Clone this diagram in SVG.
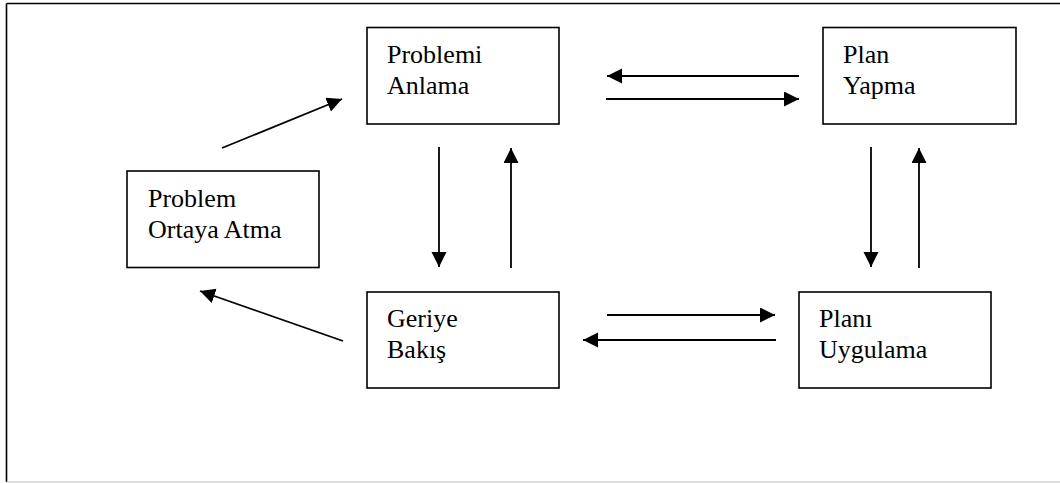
<svg xmlns="http://www.w3.org/2000/svg" width="1060" height="483" viewBox="0 0 1060 483">
<style>
.box{fill:#fff;stroke:#000;stroke-width:1.6}
.lbl{font-family:"Liberation Serif","Times New Roman",serif;font-size:26px;fill:#000}
.con{stroke:#000;stroke-width:1.8;fill:none;marker-end:url(#ah)}
.frame{stroke:#000;stroke-width:1.6;fill:none}
</style>
<defs>
<marker id="ah" markerUnits="userSpaceOnUse" markerWidth="16" markerHeight="16" refX="15" refY="7.5" orient="auto">
<path d="M0,0 L15,7.5 L0,15 z" fill="#000"/>
</marker>
</defs>
<rect width="1060" height="483" fill="#fff"/>
<g id="frame">
<line class="frame" x1="6.5" y1="3.5" x2="1060" y2="3.5"/>
<line class="frame" x1="6.5" y1="3.5" x2="6.5" y2="482"/>
<line x1="6.5" y1="482" x2="1060" y2="482" stroke="#bdbdbd" stroke-width="1.2"/>
</g>
<g id="connectors">
<line class="con" x1="222" y1="148" x2="342" y2="99"/>
<line class="con" x1="799" y1="76" x2="607" y2="76"/>
<line class="con" x1="606" y1="99" x2="799" y2="99"/>
<line class="con" x1="439" y1="147" x2="439" y2="267"/>
<line class="con" x1="511" y1="268" x2="511" y2="148"/>
<line class="con" x1="871" y1="147" x2="871" y2="267"/>
<line class="con" x1="919" y1="268" x2="919" y2="148"/>
<line class="con" x1="607" y1="315" x2="775" y2="315"/>
<line class="con" x1="776" y1="340" x2="583" y2="340"/>
<line class="con" x1="343" y1="341" x2="200" y2="291"/>
</g>
<g id="problemi-anlama">
<rect class="box" x="367" y="27.5" width="192" height="96.5"/>
<text class="lbl" x="387" y="63">Problemi</text>
<text class="lbl" x="387" y="94">Anlama</text>
</g>
<g id="plan-yapma">
<rect class="box" x="823" y="27.5" width="193" height="96.5"/>
<text class="lbl" x="843" y="63">Plan</text>
<text class="lbl" x="843" y="94">Yapma</text>
</g>
<g id="problem-ortaya-atma">
<rect class="box" x="127" y="171" width="192" height="96.5"/>
<text class="lbl" x="148" y="207">Problem</text>
<text class="lbl" x="148" y="238">Ortaya Atma</text>
</g>
<g id="geriye-bakis">
<rect class="box" x="367" y="292" width="192" height="96"/>
<text class="lbl" x="387" y="327">Geriye</text>
<text class="lbl" x="387" y="358">Bakış</text>
</g>
<g id="plani-uygulama">
<rect class="box" x="799" y="292" width="192" height="96"/>
<text class="lbl" x="819" y="327">Planı</text>
<text class="lbl" x="819" y="358">Uygulama</text>
</g>
</svg>
